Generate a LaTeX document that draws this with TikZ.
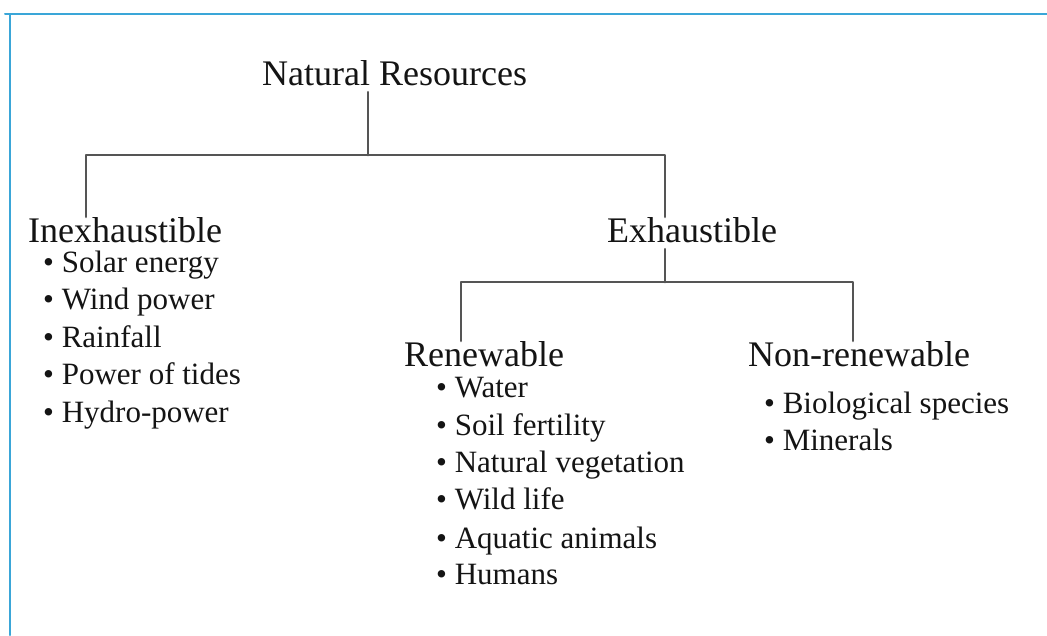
\documentclass[tikz,border=0pt]{standalone}
\usepackage{fontspec}
\setmainfont{Liberation Serif}
\usepackage{tikz}
\usetikzlibrary{positioning}
\definecolor{linkgray}{HTML}{555555}
\definecolor{framecyan}{HTML}{3AA6D8}
\definecolor{textblack}{HTML}{141414}
\tikzset{
  every picture/.style={line join=round, line cap=round, x=1pt, y=-1pt},
  heading/.style={anchor=base west, inner sep=0pt, text depth=7pt, text=textblack, font=\fontsize{36}{40}\selectfont},
  item/.style={anchor=base west, inner sep=0pt, text=textblack, font=\fontsize{31}{36}\selectfont},
  link/.style={draw=linkgray, line width=2.9pt},
  frame/.style={draw=framecyan, line width=2pt},
}

\begin{document}
\begin{tikzpicture}
\useasboundingbox (0,0) rectangle (1047,635);
\fill[white] (0,0) rectangle (1047,635);
\draw[frame] (5,14) -- (1047,14);
\draw[frame] (10,14) -- (10,635);
% headings
\node[heading] (nr) at (262,85) {Natural Resources};
\node[heading] (inex) at (28,242) {Inexhaustible};
\node[heading] (exh) at (607,242) {Exhaustible};
\node[heading] (ren) at (404,366) {Renewable};
\node[heading] (nonren) at (748,366) {Non-renewable};
% bullet lists
\foreach \txt [count=\i] in {Solar energy, Wind power, Rainfall, Power of tides, Hydro-power}
  \node[item] (inex\i) at (43,{272+37.5*(\i-1)}) {\textbullet\ \txt};
\foreach \txt/\yb [count=\i] in {Water/397, Soil fertility/435, Natural vegetation/472, Wild life/509, Aquatic animals/548, Humans/584}
  \node[item] (ren\i) at (436,\yb) {\textbullet\ \txt};
\foreach \txt/\yb [count=\i] in {Biological species/413, Minerals/450}
  \node[item] (nonren\i) at (764,\yb) {\textbullet\ \txt};
% tree lines
\coordinate (jtop) at (368,155);
\coordinate (jexh) at (665,282);
\draw[link] (nr.south -| jtop) -- (jtop);
\draw[link] (inex.north -| 86,0) |- (jtop) -| (exh.north -| 665,0);
\draw[link] (exh.south -| jexh) -- (jexh);
\draw[link] (ren.north -| 461,0) |- (jexh) -| (nonren.north -| 853,0);
\end{tikzpicture}
\end{document}
